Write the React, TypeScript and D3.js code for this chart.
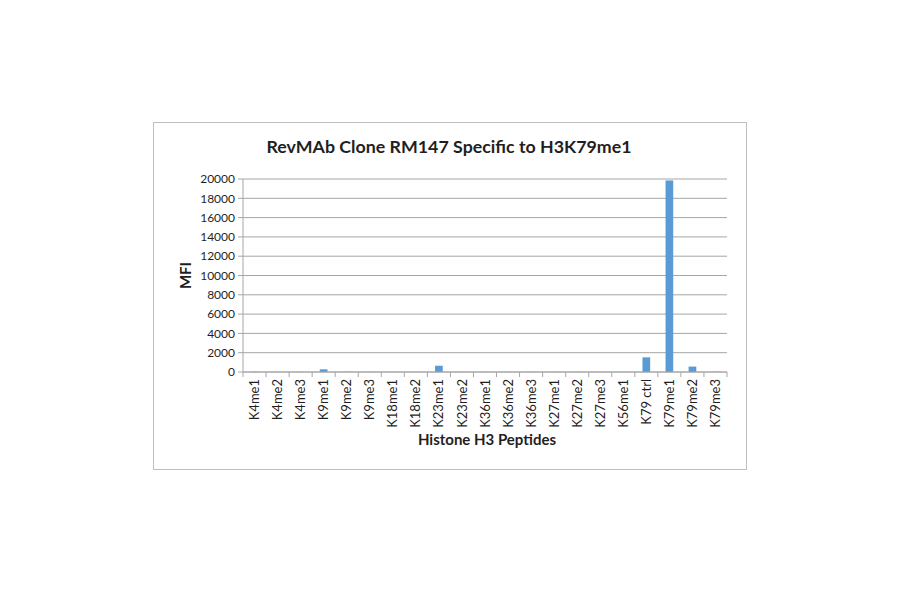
import React from 'react';
import * as d3 from 'd3';

const peptides = [
  'K4me1', 'K4me2', 'K4me3', 'K9me1', 'K9me2', 'K9me3', 'K18me1', 'K18me2',
  'K23me1', 'K23me2', 'K36me1', 'K36me2', 'K36me3', 'K27me1', 'K27me2',
  'K27me3', 'K56me1', 'K79 ctrl', 'K79me1', 'K79me2', 'K79me3',
];
const mfi = [20, 10, 10, 280, 20, 10, 10, 10, 650, 10, 10, 10, 10, 10, 10, 10, 10, 1520, 19850, 560, 20];
const yTicks = [0, 2000, 4000, 6000, 8000, 10000, 12000, 14000, 16000, 18000, 20000];

const W = 900;
const H = 594;
const margin = { left: 243, right: 173, top: 179, bottom: 222 };
const FONT = 'Lato, "DejaVu Sans", sans-serif';

export default function App() {
  const innerW = W - margin.left - margin.right;
  const innerH = H - margin.top - margin.bottom;

  const x = d3.scaleBand<string>().domain(peptides).range([0, innerW]).paddingInner(0).paddingOuter(0);
  const y = d3.scaleLinear().domain([0, 20000]).range([innerH, 0]);
  const barW = x.bandwidth() / 3;

  return (
    <svg width={W} height={H} style={{ position: 'absolute', left: 0, top: 0 }}>
      <rect x={0} y={0} width={W} height={H} fill="#ffffff" />
      <rect x={153.5} y={122.5} width={593} height={347} fill="#ffffff" stroke="#bfbfbf" strokeWidth={1} />
      <text x={449} y={153} textAnchor="middle" fontFamily={FONT} fontWeight="bold" fontSize={17.8} fill="#1f1f1f">
        RevMAb Clone RM147 Specific to H3K79me1
      </text>
      <g transform={`translate(${margin.left},${margin.top})`}>
        {yTicks.map((t) => (
          <g key={t}>
            <line x1={-5} x2={innerW} y1={y(t)} y2={y(t)} stroke="#a6a6a6" strokeWidth={1} />
            <text x={-8} y={y(t)} dy="0.35em" textAnchor="end" fontFamily={FONT} fontSize={12} fill="#1f1f1f">
              {t}
            </text>
          </g>
        ))}
        <line x1={0} x2={0} y1={0} y2={innerH} stroke="#a6a6a6" />
        {peptides.map((p, i) => (
          <rect
            key={p}
            x={(x(p) as number) + (x.bandwidth() - barW) / 2}
            y={y(mfi[i])}
            width={barW}
            height={innerH - y(mfi[i])}
            fill="#5b9bd5"
          />
        ))}
        <line x1={0} x2={innerW} y1={innerH} y2={innerH} stroke="#a6a6a6" />
        {peptides.map((p) => (
          <line key={p} x1={x(p) as number} x2={x(p) as number} y1={innerH} y2={innerH + 5} stroke="#a6a6a6" />
        ))}
        <line x1={innerW} x2={innerW} y1={innerH} y2={innerH + 5} stroke="#a6a6a6" />
        {peptides.map((p) => (
          <text
            key={p}
            transform={`translate(${(x(p) as number) + x.bandwidth() / 2},${innerH + 7}) rotate(-90)`}
            dy="0.35em"
            textAnchor="end"
            fontFamily={FONT}
            fontSize={13}
            fill="#1f1f1f"
          >
            {p}
          </text>
        ))}
        <text
          transform={`translate(${-52},${innerH / 2}) rotate(-90)`}
          textAnchor="middle"
          fontFamily={FONT}
          fontWeight="bold"
          fontSize={15}
          fill="#1f1f1f"
        >
          MFI
        </text>
        <text x={innerW / 2 + 2} y={innerH + 73} textAnchor="middle" fontFamily={FONT} fontWeight="bold" fontSize={15} fill="#1f1f1f">
          Histone H3 Peptides
        </text>
      </g>
    </svg>
  );
}
